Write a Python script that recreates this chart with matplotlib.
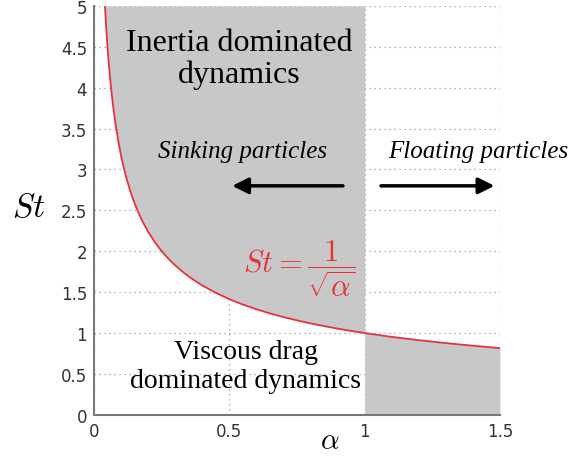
import numpy as np
import matplotlib
matplotlib.use("Agg")
import matplotlib.pyplot as plt

# curve St = 1/sqrt(alpha)
alpha = [0.040, 0.042, 0.045, 0.048, 0.050, 0.055, 0.060, 0.065, 0.070, 0.075,
         0.080, 0.090, 0.100, 0.110, 0.120, 0.130, 0.140, 0.150, 0.165, 0.180,
         0.200, 0.220, 0.240, 0.260, 0.280, 0.300, 0.330, 0.360, 0.400, 0.450,
         0.500, 0.550, 0.600, 0.650, 0.700, 0.750, 0.800, 0.850, 0.900, 0.950,
         1.000, 1.100, 1.200, 1.300, 1.400, 1.500]
st = [5.000, 4.880, 4.714, 4.564, 4.472, 4.264, 4.082, 3.922, 3.780, 3.651,
      3.536, 3.333, 3.162, 3.015, 2.887, 2.774, 2.673, 2.582, 2.462, 2.357,
      2.236, 2.132, 2.041, 1.961, 1.890, 1.826, 1.741, 1.667, 1.581, 1.491,
      1.414, 1.348, 1.291, 1.240, 1.195, 1.155, 1.118, 1.085, 1.054, 1.026,
      1.000, 0.953, 0.913, 0.877, 0.845, 0.816]

x_ticks = [0, 0.5, 1, 1.5]
x_labels = ["0", "0.5", "1", "1.5"]
y_ticks = [0, 0.5, 1, 1.5, 2, 2.5, 3, 3.5, 4, 4.5, 5]
y_labels = ["0", "0.5", "1", "1.5", "2", "2.5", "3", "3.5", "4", "4.5", "5"]

plt.rcParams["mathtext.fontset"] = "cm"
gray = "#c8c8c8"
red = "#e8313b"
serif = "Liberation Serif"

a = np.array(alpha)
s = np.array(st)

fig = plt.figure(figsize=(5.74, 4.6), dpi=100)
ax = fig.add_axes([0.164, 0.096, 0.707, 0.889])

ax.grid(True, linestyle=(0, (1, 3)), color="#999999", linewidth=0.9)
ax.set_axisbelow(True)

left = a <= 1.0
right = a >= 1.0
ax.fill_between(a[left], s[left], 5, color=gray, linewidth=0, zorder=2)
ax.fill_between(a[right], 0, s[right], color=gray, linewidth=0, zorder=2)
ax.plot(a, s, color=red, linewidth=1.3, zorder=3)

ax.set_xlim(0, 1.5)
ax.set_ylim(0, 5)
ax.set_xticks(x_ticks)
ax.set_xticklabels(x_labels)
ax.set_yticks(y_ticks)
ax.set_yticklabels(y_labels)
ax.tick_params(labelsize=12, colors="#333333", length=0, pad=5)
for side in ["top", "right"]:
    ax.spines[side].set_visible(False)
for side in ["left", "bottom"]:
    ax.spines[side].set_color("#777777")
    ax.spines[side].set_linewidth(1.5)

ax.set_xlabel(r"$\alpha$", fontsize=21, va="center")
ax.xaxis.set_label_coords(0.58, -0.062)
ax.set_ylabel(r"$St$", fontsize=24, rotation=0)
ax.yaxis.set_label_coords(-0.16, 0.47)

ax.text(0.535, 4.36, "Inertia dominated\ndynamics", ha="center", va="center",
        fontsize=23, family=serif, linespacing=1.1, zorder=4)
ax.text(0.56, 0.6, "Viscous drag\ndominated dynamics", ha="center", va="center",
        fontsize=20, family=serif, linespacing=1.2, zorder=4)
ax.text(0.55, 3.23, "Sinking particles", ha="center", va="center",
        fontsize=18, family=serif, style="italic", zorder=4)
ax.text(1.42, 3.23, "Floating particles", ha="center", va="center",
        fontsize=18, family=serif, style="italic", zorder=4)
ax.text(0.76, 1.8, r"$St = \dfrac{1}{\sqrt{\alpha}}$", ha="center", va="center",
        fontsize=22, color=red, zorder=4)

ax.annotate("", xy=(0.5, 2.8), xytext=(0.93, 2.8),
            arrowprops=dict(arrowstyle="-|>", color="black", lw=2.5,
                            mutation_scale=24), zorder=4)
ax.annotate("", xy=(1.49, 2.8), xytext=(1.05, 2.8),
            arrowprops=dict(arrowstyle="-|>", color="black", lw=2.5,
                            mutation_scale=24), zorder=4)

fig.savefig("out.png", dpi=100)
